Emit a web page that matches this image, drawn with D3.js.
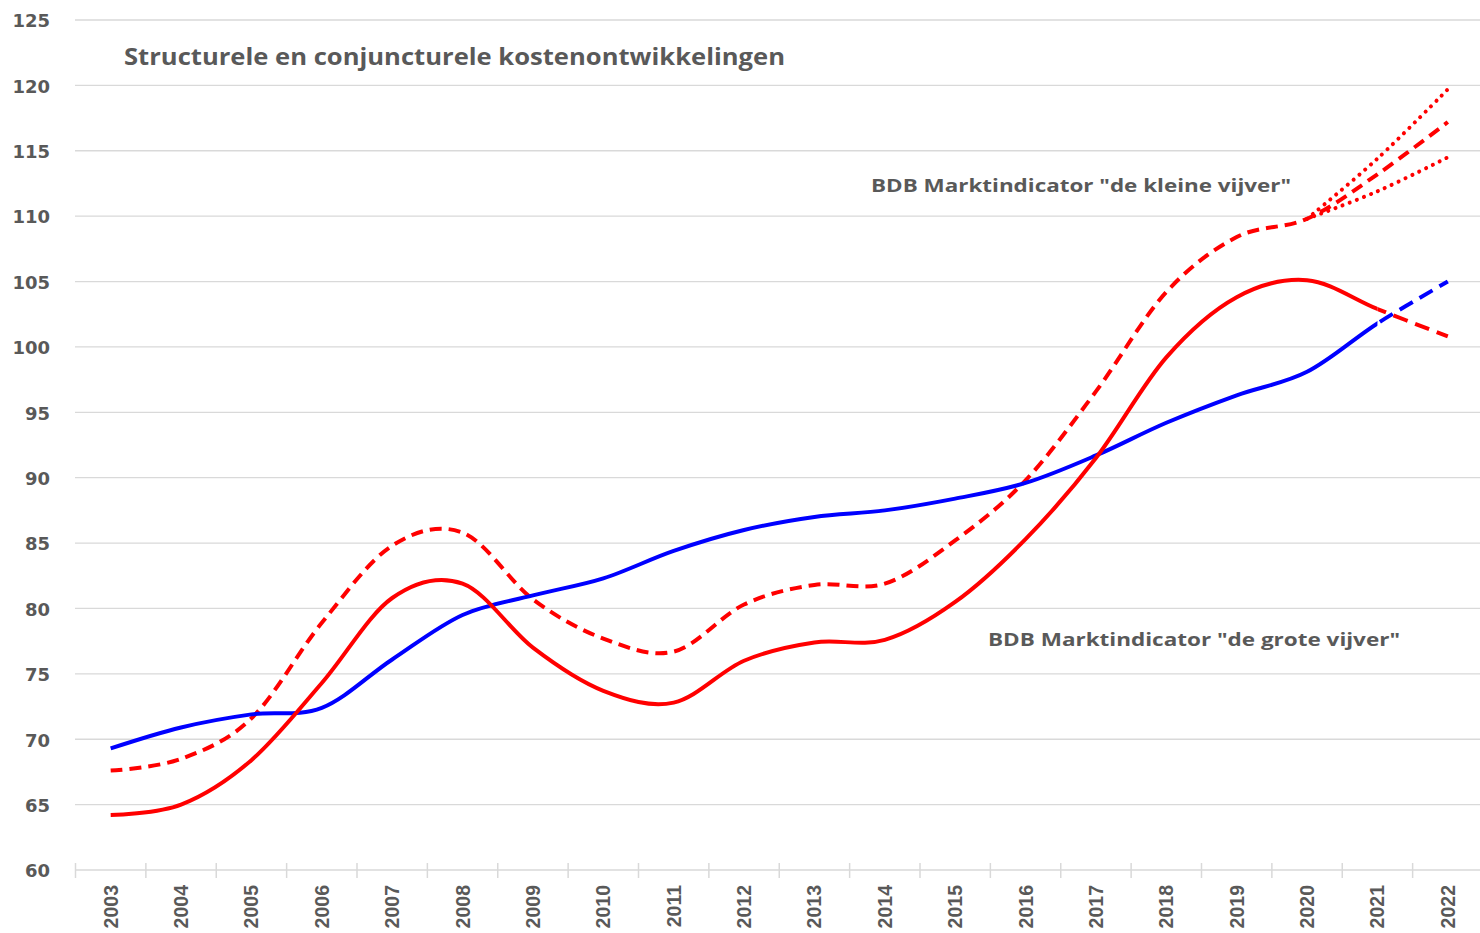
<!DOCTYPE html>
<html>
<head>
<meta charset="utf-8">
<script src="https://cdn.jsdelivr.net/npm/d3@7"></script>
<style>
  body { margin: 0; background: #fff; }
  svg { display: block; }
  .ylab { font-family: "DejaVu Sans", sans-serif; font-weight: bold; font-size: 18px; fill: #595959; }
  .xlab { font-family: "Liberation Sans", Arial, sans-serif; font-weight: bold; font-size: 19.5px; fill: #595959; }
  .note { font-family: "Open Sans", sans-serif; font-weight: bold; fill: #595959; }
</style>
</head>
<body>
<svg id="chart" width="1480" height="933"></svg>
<script>
// data
var years = [2003,2004,2005,2006,2007,2008,2009,2010,2011,2012,2013,2014,2015,2016,2017,2018,2019,2020,2021,2022];
var yTicks = [60,65,70,75,80,85,90,95,100,105,110,115,120,125];

// blue: structural cost trend (solid until 2021, dashed to 2022)
var structureel = [69.3,70.9,71.9,72.4,76.1,79.5,81.0,82.3,84.4,86.0,87.0,87.5,88.4,89.6,91.7,94.2,96.3,98.1,101.8,105.0];
// red solid: "de grote vijver" (solid until 2021, dashed to 2022)
var groteVijver = [64.2,65.0,68.4,74.3,80.8,81.9,77.0,73.7,72.8,76.0,77.4,77.6,80.5,85.3,91.5,99.2,103.8,105.1,102.9,100.8];
// red dashed: "de kleine vijver"
var kleineVijver = [67.6,68.5,71.6,78.9,84.8,85.8,80.7,77.7,76.7,80.3,81.8,81.9,85.2,89.8,96.6,104.2,108.4,109.8,113.2,117.2];
// dotted bandwidth 2020-2022 around "de kleine vijver"
var bandYears = [2020,2021,2022];
var kleineHoog = [109.8,114.4,119.7];
var kleineLaag = [109.8,111.9,114.5];

var title = "Structurele en conjuncturele kostenontwikkelingen";
var labelKlein = "BDB Marktindicator \"de kleine vijver\"";
var labelGroot = "BDB Marktindicator \"de grote vijver\"";

var svg = d3.select('#chart');
var plotLeft = 75, plotRight = 1480, plotTop = 20, plotBottom = 870;

var x = d3.scaleBand().domain(years).range([75.5, 1483]).padding(0);
var xc = function(yr){ return x(yr) + x.bandwidth()/2; };
var y = d3.scaleLinear().domain([60,125]).range([plotBottom, plotTop]);

// gridlines
svg.append('g').selectAll('line')
    .data(yTicks.filter(function(t){ return t > 60; }))
    .join('line')
    .attr('x1', plotLeft).attr('x2', plotRight)
    .attr('y1', function(d){ return y(d); }).attr('y2', function(d){ return y(d); })
    .attr('stroke', '#d9d9d9').attr('stroke-width', 1.3);

// y axis labels
var yAxis = d3.axisLeft(y).tickValues(yTicks).tickSize(0).tickPadding(0);
var yg = svg.append('g').attr('transform', 'translate(50,0)').call(yAxis);
yg.select('.domain').remove();
yg.selectAll('text').attr('class', 'ylab').attr('dy', '0.38em')
    .attr('font-family', null).attr('font-size', null).attr('fill', null);

// x axis: baseline + boundary ticks
var xg = svg.append('g');
xg.append('line')
    .attr('x1', plotLeft).attr('x2', plotRight)
    .attr('y1', y(60)).attr('y2', y(60))
    .attr('stroke', '#d9d9d9').attr('stroke-width', 1.5);
xg.selectAll('line.tick')
    .data(years)
    .join('line')
    .attr('class', 'tick')
    .attr('x1', function(d){ return x(d); }).attr('x2', function(d){ return x(d); })
    .attr('y1', y(60) - 7).attr('y2', y(60) + 8)
    .attr('stroke', '#d9d9d9').attr('stroke-width', 1.5);
xg.selectAll('text')
    .data(years)
    .join('text')
    .attr('class', 'xlab')
    .attr('text-anchor', 'end')
    .attr('transform', function(d){ return 'translate(' + (xc(d) + 7) + ',885) rotate(-90)'; })
    .text(function(d){ return d; });

// clip: solid part up to 2021, dashed part after
var defs = svg.append('defs');
defs.append('clipPath').attr('id', 'clipSolid').append('rect')
    .attr('x', 0).attr('y', 0).attr('width', xc(2021)).attr('height', 933);
defs.append('clipPath').attr('id', 'clipDash').append('rect')
    .attr('x', xc(2021)).attr('y', 0).attr('width', 1480 - xc(2021)).attr('height', 933);

var line = d3.line()
    .x(function(d){ return xc(d[0]); })
    .y(function(d){ return y(d[1]); })
    .curve(d3.curveCardinal.tension(0));

var pairs = function(xs, vs){ return xs.map(function(v, i){ return [v, vs[i]]; }); };

var drawSeries = function(vals, color){
    var pts = pairs(years, vals);
    svg.append('path').attr('d', line(pts))
        .attr('fill', 'none').attr('stroke', color).attr('stroke-width', 4)
        .attr('clip-path', 'url(#clipSolid)');
    svg.append('path').attr('d', line(pts))
        .attr('fill', 'none').attr('stroke', color).attr('stroke-width', 4)
        .attr('stroke-dasharray', '15,8')
        .attr('clip-path', 'url(#clipDash)');
};

// kleine vijver dashed, plus dotted bandwidth
svg.append('path').attr('d', line(pairs(bandYears, kleineHoog)))
    .attr('fill', 'none').attr('stroke', '#ff0000').attr('stroke-width', 4)
    .attr('stroke-linecap', 'round').attr('stroke-dasharray', '0.1,7.5');
svg.append('path').attr('d', line(pairs(bandYears, kleineLaag)))
    .attr('fill', 'none').attr('stroke', '#ff0000').attr('stroke-width', 4)
    .attr('stroke-linecap', 'round').attr('stroke-dasharray', '0.1,7.5');
svg.append('path').attr('d', line(pairs(years, kleineVijver)))
    .attr('fill', 'none').attr('stroke', '#ff0000').attr('stroke-width', 4)
    .attr('stroke-dasharray', '12,7');

drawSeries(structureel, '#0000ff');
drawSeries(groteVijver, '#ff0000');

// texts
svg.append('text').attr('class', 'note')
    .attr('x', 124).attr('y', 65).attr('font-size', 23)
    .attr('textLength', 661).attr('lengthAdjust', 'spacingAndGlyphs')
    .text(title);
svg.append('text').attr('class', 'note')
    .attr('x', 871).attr('y', 192).attr('font-size', 18)
    .attr('textLength', 420).attr('lengthAdjust', 'spacingAndGlyphs')
    .text(labelKlein);
svg.append('text').attr('class', 'note')
    .attr('x', 988).attr('y', 646).attr('font-size', 18)
    .attr('textLength', 412).attr('lengthAdjust', 'spacingAndGlyphs')
    .text(labelGroot);
</script>
</body>
</html>
